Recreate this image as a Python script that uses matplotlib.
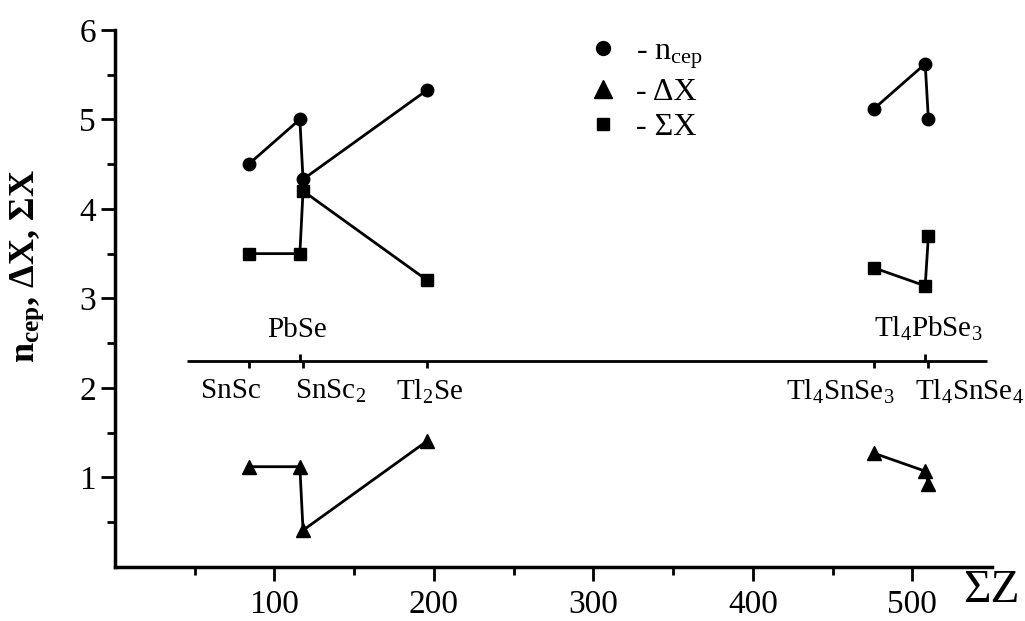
import numpy as np
import matplotlib
matplotlib.use('Agg')
from matplotlib import pyplot as plt
from matplotlib.lines import Line2D

plt.rcParams['font.family'] = ['Liberation Serif', 'DejaVu Serif']
plt.rcParams['mathtext.fontset'] = 'custom'
plt.rcParams['mathtext.rm'] = 'Liberation Serif'
plt.rcParams['mathtext.it'] = 'Liberation Serif:italic'
plt.rcParams['mathtext.bf'] = 'Liberation Serif:bold'

# sum of atomic numbers, left group (SnSe, PbSe, SnSe2, Tl2Se) and right group (Tl4SnSe3, Tl4PbSe3, Tl4SnSe4)
z_left = [84, 116, 118, 196]
z_right = [476, 508, 510]

n_cep_left = [4.5, 5.0, 4.33, 5.33]
n_cep_right = [5.12, 5.62, 5.0]

dx_left = [1.12, 1.12, 0.41, 1.41]
dx_right = [1.27, 1.07, 0.93]

sx_left = [3.5, 3.5, 4.2, 3.2]
sx_right = [3.34, 3.14, 3.70]

# compounds on the inner scale
names_below = ['SnSc', 'SnSc$_2$', 'Tl$_2$Se', 'Tl$_4$SnSe$_3$', 'Tl$_4$SnSe$_4$']
z_below = [84, 118, 196, 476, 510]
names_above = ['PbSe', 'Tl$_4$PbSe$_3$']
z_above = [116, 508]

fig = plt.figure(figsize=(10.25, 6.21), dpi=100)
ax = fig.add_axes([0.112, 0.087, 0.856, 0.865])

kw = dict(color='black', lw=2)
ax.plot(z_left, n_cep_left, marker='o', ms=9, **kw)
ax.plot(z_right, n_cep_right, marker='o', ms=9, **kw)
ax.plot(z_left, dx_left, marker='^', ms=10, **kw)
ax.plot(z_right, dx_right, marker='^', ms=10, **kw)
ax.plot(z_left, sx_left, marker='s', ms=8.5, **kw)
ax.plot(z_right, sx_right, marker='s', ms=8.5, **kw)

# inner scale with compound marks
y_scale = 2.3
ax.hlines(y_scale, 45, 547, color='black', lw=2)
ax.vlines(z_below, y_scale - 0.08, y_scale, color='black', lw=2)
ax.vlines(z_above, y_scale, y_scale + 0.08, color='black', lw=2)

shift_below = [-11, 17, 1, -21, 26]
for name, z, dz in zip(names_below, z_below, shift_below):
    ax.text(z + dz, 2.11, name, ha='center', va='top', fontsize=21)
shift_above = [-2, 2]
for name, z, dz in zip(names_above, z_above, shift_above):
    ax.text(z + dz, 2.5, name, ha='center', va='bottom', fontsize=21)

# legend
handles = [
    Line2D([], [], ls='none', marker='o', ms=10, color='black'),
    Line2D([], [], ls='none', marker='^', ms=13, color='black'),
    Line2D([], [], ls='none', marker='s', ms=8, color='black'),
]
labels = ['- n$_{\\mathregular{сер}}$', '- ΔX', '- ΣX']
ax.legend(handles, labels, loc='upper left', bbox_to_anchor=(0.505, 1.04),
          frameon=False, fontsize=23, handletextpad=0.55, labelspacing=0.2,
          handlelength=1.0)

ax.set_xlim(0, 550)
ax.set_ylim(0, 6)
ax.set_xticks([100, 200, 300, 400, 500])
ax.set_xticks(np.arange(50, 500, 100), minor=True)
ax.set_yticks([1, 2, 3, 4, 5, 6])
ax.set_yticks(np.arange(0.5, 6, 1.0), minor=True)
ax.tick_params(which='major', length=10, width=2, labelsize=24, direction='out')
ax.tick_params(axis='x', which='major', pad=6)
ax.tick_params(which='minor', length=6, width=2, direction='out')

for s in ['top', 'right']:
    ax.spines[s].set_visible(False)
for s in ['left', 'bottom']:
    ax.spines[s].set_linewidth(2.5)

ax.set_ylabel('n$_{\\mathregular{сер}}$, ΔX, ΣX', fontsize=26, fontweight='bold')
ax.yaxis.set_label_coords(-0.078, 0.56)
fig.text(0.995, 0.015, 'ΣZ', ha='right', va='bottom', fontsize=34)

fig.savefig('out.png', dpi=100)
